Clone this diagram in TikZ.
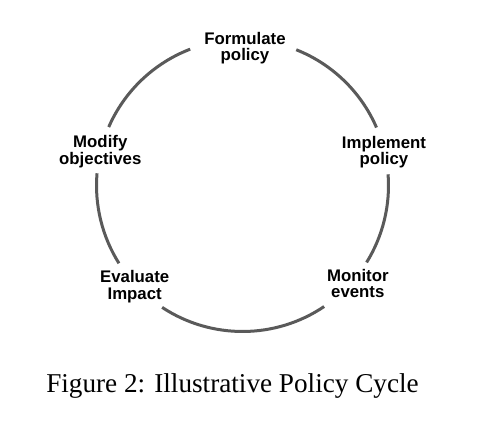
\documentclass[tikz,border=0pt]{standalone}
\usepackage{fontspec}
\setmainfont{Liberation Serif}
\newfontfamily\labelfont{Liberation Sans}
\definecolor{arcgray}{HTML}{5A5A5A}
\tikzset{
  steplabel/.style={align=center, inner sep=0pt, font=\labelfont\fontsize{16.8}{16.7}\selectfont\bfseries, text=black},
  cyclearc/.style={draw=arcgray, line width=3pt},
  captionstyle/.style={inner sep=0pt, font=\fontsize{27.2}{30}\selectfont}
}
\begin{document}
\begin{tikzpicture}[x=1pt,y=1pt]
\useasboundingbox[fill=white] (0,0) rectangle (478,438);
\coordinate (c) at (242.5,252.5);
\def\R{146}
\node[steplabel] (formulate) at (245,389.7) {Formulate\\policy};
\node[steplabel] (implement) at (384,285.7) {Implement\\policy};
\node[steplabel] (monitor) at (357.8,154.5) {Monitor\\events};
\node[steplabel] (evaluate) at (134.7,151.6) {Evaluate\\Impact};
\node[steplabel] (modify) at (100.3,286.6) {Modify\\objectives};
\path (c) ++(68.4:\R) coordinate (a1) (c) ++(156.4:\R) coordinate (a2)
      (c) ++(212.2:\R) coordinate (a3) (c) ++(304:\R) coordinate (a4)
      (c) ++(364.4:\R) coordinate (a5);
\draw[cyclearc] (a1) arc[start angle=68.4, end angle=23.4, radius=\R];
\draw[cyclearc] (a2) arc[start angle=156.4, end angle=111, radius=\R];
\draw[cyclearc] (a3) arc[start angle=212.2, end angle=175.2, radius=\R];
\draw[cyclearc] (a4) arc[start angle=304, end angle=236.6, radius=\R];
\draw[cyclearc] (a5) arc[start angle=364.4, end angle=328.2, radius=\R];
\node[captionstyle, anchor=base] (caption) at (232.5,45) {Figure 2: Illustrative Policy Cycle};
\end{tikzpicture}
\end{document}
